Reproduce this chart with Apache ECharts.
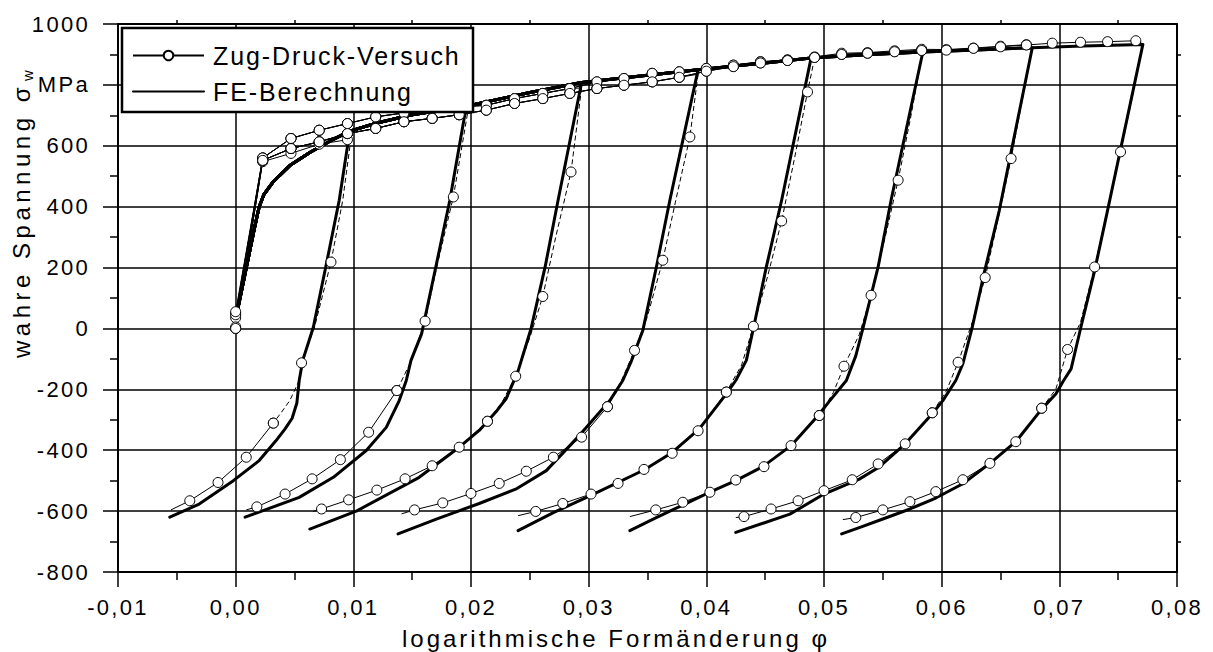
<!DOCTYPE html>
<html>
<head>
<meta charset="utf-8">
<script src="https://cdn.jsdelivr.net/npm/echarts@6/dist/echarts.min.js"></script>
<style>
  html, body { margin: 0; padding: 0; background: #fff; }
  #chart { width: 1213px; height: 652px; }
</style>
</head>
<body>
<div id="chart"></div>
<script>
// Achsen: Teilung und Beschriftung
const xTicks = [-0.01, 0, 0.01, 0.02, 0.03, 0.04, 0.05, 0.06, 0.07, 0.08];
const xTickLabels = ['-0,01', '0,00', '0,01', '0,02', '0,03', '0,04', '0,05', '0,06', '0,07', '0,08'];
const yTicks = [-800, -600, -400, -200, 0, 200, 400, 600, 800, 1000];
const yTickLabels = ['-800', '-600', '-400', '-200', '0', '200', '400', '600', 'MPa', '1000'];
const xTitel = 'logarithmische Formänderung φ';
const yTitel = 'wahre Spannung σ';
const yTitelIndex = 'w';

// Zug-Druck-Versuch: Zugäste (Messpunkte [phi, sigma])
const versuchAstL = [[0.0023, 548], [0.0047, 575], [0.0071, 605], [0.0095, 620]];
const versuchAstM = [[0.0023, 552], [0.0047, 591], [0.0071, 613], [0.0095, 640], [0.0119, 657], [0.0143, 679],
  [0.0167, 690], [0.0190, 702], [0.0213, 717], [0.0237, 739], [0.0261, 755], [0.0284, 772], [0.0307, 788],
  [0.0330, 799], [0.0354, 810], [0.0377, 825], [0.0400, 845], [0.0423, 860], [0.0446, 872], [0.0469, 880],
  [0.0492, 890], [0.0515, 900], [0.0537, 904], [0.0560, 909], [0.0583, 913], [0.0604, 914], [0.0627, 920],
  [0.0650, 925], [0.0672, 931], [0.0694, 937], [0.0718, 940], [0.0741, 942], [0.0765, 945]];
const versuchAstU = [[0.0023, 560], [0.0047, 624], [0.0071, 651], [0.0095, 673], [0.0119, 695], [0.0143, 708],
  [0.0167, 720], [0.0190, 728], [0.0213, 733], [0.0237, 755], [0.0261, 772], [0.0284, 788], [0.0307, 810],
  [0.0330, 821], [0.0354, 838], [0.0377, 843], [0.0400, 854], [0.0423, 865], [0.0446, 876], [0.0469, 882],
  [0.0492, 892], [0.0515, 904], [0.0537, 906], [0.0560, 912], [0.0583, 917], [0.0604, 916], [0.0627, 921],
  [0.0650, 927], [0.0672, 932]];
const versuchAstWahl = ['L', 'M', 'U', 'M', 'U', 'M', 'U', 'M'];
const versuchStartY = [0, 50, 35, 0, 45, 5, 55, 0];

// Zug-Druck-Versuch: Entlastung und Druckast [phi, sigma, Kreis 1/0]
const versuchRueck1 = [[0.0098, 625, 0], [0.0091, 421, 0], [0.0081, 218, 1], [0.0067, 4, 0], [0.0056, -113, 1],
  [0.0054, -171, 0], [0.0046, -237, 0], [0.0038, -280, 0], [0.0032, -311, 1], [0.0009, -423, 1],
  [-0.0015, -506, 1], [-0.0039, -566, 1], [-0.0055, -596, 0]];
const versuchRueck2 = [[0.0197, 705, 0], [0.0185, 432, 1], [0.0172, 220, 0], [0.0161, 24, 1], [0.0150, -100, 0],
  [0.0137, -204, 1], [0.0113, -341, 1], [0.0089, -431, 1], [0.0065, -494, 1], [0.0042, -544, 1],
  [0.0018, -586, 1], [0.0009, -596, 0]];
const versuchRueck3 = [[0.0294, 790, 0], [0.0285, 514, 1], [0.0272, 300, 0], [0.0261, 105, 1], [0.0250, -30, 0],
  [0.0238, -157, 1], [0.0226, -245, 0], [0.0214, -305, 1], [0.0190, -390, 1], [0.0167, -451, 1],
  [0.0144, -494, 1], [0.0120, -531, 1], [0.0096, -563, 1], [0.0073, -593, 1], [0.0066, -601, 0]];
const versuchRueck4 = [[0.0393, 835, 0], [0.0386, 629, 1], [0.0374, 420, 0], [0.0363, 224, 1], [0.0350, 40, 0],
  [0.0339, -72, 1], [0.0328, -170, 0], [0.0316, -257, 1], [0.0294, -357, 1], [0.0270, -423, 1],
  [0.0247, -469, 1], [0.0224, -509, 1], [0.0200, -542, 1], [0.0176, -573, 1], [0.0152, -596, 1],
  [0.0141, -609, 0]];
const versuchRueck5 = [[0.0492, 888, 0], [0.0486, 777, 1], [0.0475, 560, 0], [0.0464, 353, 1], [0.0452, 170, 0],
  [0.0440, 7, 1], [0.0430, -120, 0], [0.0417, -209, 1], [0.0393, -336, 1], [0.0371, -410, 1],
  [0.0347, -463, 1], [0.0325, -509, 1], [0.0302, -544, 1], [0.0278, -575, 1], [0.0255, -601, 1],
  [0.0240, -615, 0]];
const versuchRueck6 = [[0.0584, 913, 0], [0.0574, 700, 0], [0.0563, 487, 1], [0.0552, 300, 0], [0.0540, 109, 1],
  [0.0530, -20, 0], [0.0517, -124, 1], [0.0508, -210, 0], [0.0496, -286, 1], [0.0472, -385, 1],
  [0.0449, -454, 1], [0.0425, -498, 1], [0.0403, -538, 1], [0.0380, -571, 1], [0.0357, -596, 1],
  [0.0335, -618, 0]];
const versuchRueck7 = [[0.0677, 925, 0], [0.0668, 740, 0], [0.0659, 558, 1], [0.0648, 360, 0], [0.0637, 167, 1],
  [0.0626, 20, 0], [0.0614, -111, 1], [0.0604, -205, 0], [0.0592, -277, 1], [0.0569, -379, 1],
  [0.0546, -445, 1], [0.0524, -497, 1], [0.0500, -533, 1], [0.0478, -566, 1], [0.0455, -593, 1],
  [0.0432, -618, 1], [0.0425, -621, 0]];
const versuchRueck8 = [[0.0771, 935, 0], [0.0762, 760, 0], [0.0752, 580, 1], [0.0741, 390, 0], [0.0730, 202, 1],
  [0.0718, 20, 0], [0.0707, -69, 1], [0.0697, -200, 0], [0.0685, -262, 1], [0.0663, -372, 1],
  [0.0641, -443, 1], [0.0618, -497, 1], [0.0595, -536, 1], [0.0573, -569, 1], [0.0550, -596, 1],
  [0.0527, -621, 1], [0.0516, -628, 0]];
// letzter gestrichelter Punkt je Versuch (Index in versuchRueckN)
const versuchStrichBis = [8, 5, 7, 7, 7, 8, 8, 8];

// FE-Berechnung: Zugast und Rückäste [phi, sigma]
const feAst = [[0, 30], [0.0008, 180], [0.0016, 330], [0.0020, 400], [0.0024, 440], [0.0032, 482],
  [0.0046, 535], [0.0063, 578], [0.0080, 615], [0.0097, 648], [0.0120, 675], [0.0150, 702], [0.0196, 730],
  [0.0250, 775], [0.0294, 808], [0.0350, 832], [0.0393, 850], [0.0450, 872], [0.0489, 888], [0.0540, 900],
  [0.0584, 908], [0.0630, 915], [0.0677, 922], [0.0720, 928], [0.0771, 933]];
const feRueck1 = [[0.0097, 648], [0.0088, 421], [0.0077, 210], [0.0066, 4], [0.0057, -105], [0.0054, -171],
  [0.0052, -245], [0.0048, -295], [0.0042, -330], [0.0034, -370], [0.0020, -434], [-0.0002, -500],
  [-0.0031, -577], [-0.0056, -620]];
const feRueck2 = [[0.0196, 730], [0.0182, 421], [0.0170, 200], [0.0158, -18], [0.0149, -105], [0.0145, -171],
  [0.0139, -237], [0.0128, -325], [0.0111, -401], [0.0083, -489], [0.0054, -555], [0.0008, -620]];
const feRueck3 = [[0.0294, 808], [0.0274, 421], [0.0263, 202], [0.0251, -1], [0.0240, -140], [0.0230, -230],
  [0.0222, -270], [0.0207, -335], [0.0190, -390], [0.0156, -489], [0.0103, -599], [0.0063, -659]];
const feRueck4 = [[0.0393, 850], [0.0369, 421], [0.0358, 210], [0.0346, -7], [0.0336, -110], [0.0329, -171],
  [0.0318, -237], [0.0292, -352], [0.0264, -467], [0.0238, -528], [0.0207, -575], [0.0170, -627],
  [0.0138, -675]];
const feRueck5 = [[0.0489, 888], [0.0464, 421], [0.0451, 202], [0.0440, 0], [0.0434, -105], [0.0425, -171],
  [0.0417, -215], [0.0394, -330], [0.0370, -410], [0.0347, -465], [0.0301, -550], [0.0270, -605],
  [0.0240, -664]];
const feRueck6 = [[0.0584, 908], [0.0557, 421], [0.0546, 202], [0.0533, -1], [0.0527, -90], [0.0519, -171],
  [0.0505, -237], [0.0495, -286], [0.0472, -385], [0.0448, -454], [0.0425, -500], [0.0403, -538],
  [0.0380, -580], [0.0357, -622], [0.0335, -664]];
const feRueck7 = [[0.0677, 922], [0.0649, 388], [0.0636, 180], [0.0626, 4], [0.0618, -116], [0.0612, -171],
  [0.0601, -237], [0.0592, -280], [0.0569, -379], [0.0547, -455], [0.0530, -495], [0.0500, -544],
  [0.0471, -610], [0.0425, -670]];
const feRueck8 = [[0.0771, 933], [0.0741, 388], [0.0730, 190], [0.0718, -1], [0.0710, -133], [0.0703, -175],
  [0.0697, -215], [0.0685, -265], [0.0663, -372], [0.0641, -443], [0.0618, -510], [0.0595, -557],
  [0.0573, -593], [0.0550, -626], [0.0530, -654], [0.0515, -675]];

const FONT = 'Liberation Sans';
const VERSUCH = 'Zug-Druck-Versuch';
const FE = 'FE-Berechnung';

const versuchAeste = { L: versuchAstL, M: versuchAstM, U: versuchAstU };
const versuchRueck = [versuchRueck1, versuchRueck2, versuchRueck3, versuchRueck4,
  versuchRueck5, versuchRueck6, versuchRueck7, versuchRueck8];
const feRueck = [feRueck1, feRueck2, feRueck3, feRueck4, feRueck5, feRueck6, feRueck7, feRueck8];

function tickLabel(ticks, labels, v) {
  let best = 0;
  ticks.forEach((t, i) => { if (Math.abs(t - v) < Math.abs(ticks[best] - v)) best = i; });
  return labels[best];
}

// Messpunkte mit Kreis / ohne Kreis
function punkte(arr) {
  return arr.map(p => ({ value: [p[0], p[1]], symbol: p[2] ? 'circle' : 'none' }));
}

function versuchSerie(data, dashed) {
  return {
    type: 'line', name: VERSUCH, data: punkte(data),
    symbol: 'circle', symbolSize: 10, showSymbol: true, showAllSymbol: true,
    itemStyle: { color: '#fff', borderColor: '#000', borderWidth: 1 },
    lineStyle: { color: '#000', width: 1, type: dashed ? [5, 3] : 'solid' },
    emphasis: { disabled: true }, z: 3, animation: false
  };
}

const series = [];

// Versuchsäste zuerst (Legendeneintrag mit Kreis)
versuchRueck.forEach((r, k) => {
  const ast = versuchAeste[versuchAstWahl[k]];
  const peakX = r[0][0];
  const zug = [[0, versuchStartY[k], 1]]
    .concat(ast.filter(p => p[0] < peakX - 1e-6).map(p => [p[0], p[1], 1]))
    .concat([r[0]]);
  const d = versuchStrichBis[k];
  series.push(versuchSerie(zug, false));
  series.push(versuchSerie(r.slice(0, d + 1), true));
  series.push(versuchSerie(r.slice(d), false));
});

feRueck.forEach(r => {
  const peakX = r[0][0];
  const pts = feAst.filter(p => p[0] < peakX - 1e-6).concat(r);
  series.push({
    type: 'line', name: FE, data: pts, symbol: 'none', showSymbol: false,
    lineStyle: { color: '#000', width: 3, cap: 'round', join: 'round' },
    itemStyle: { color: 'rgba(0,0,0,0)', borderColor: 'rgba(0,0,0,0)' },
    emphasis: { disabled: true }, z: 2, animation: false
  });
});

const axisLineStyle = { color: '#000', width: 2 };
const gridLineStyle = { color: '#000', width: 1.5 };
const labelStyle = { color: '#000', fontSize: 22, fontFamily: FONT };

const option = {
  animation: false,
  backgroundColor: '#fff',
  textStyle: { fontFamily: FONT },
  grid: { left: 118, right: 36, top: 24, bottom: 80, containLabel: false },
  xAxis: [
    {
      type: 'value', position: 'bottom', min: -0.01, max: 0.08, interval: 0.01,
      axisLine: { show: true, lineStyle: axisLineStyle, onZero: false },
      axisTick: { show: true, length: 15, lineStyle: gridLineStyle },
      minorTick: { show: true, splitNumber: 2, length: 8, lineStyle: gridLineStyle },
      splitLine: { show: true, lineStyle: gridLineStyle },
      axisLabel: Object.assign({ margin: 24, formatter: v => tickLabel(xTicks, xTickLabels, v) }, labelStyle)
    },
    {
      type: 'value', position: 'top', min: -0.01, max: 0.08, interval: 0.01,
      axisLine: { show: true, lineStyle: axisLineStyle, onZero: false },
      axisTick: { show: false },
      minorTick: { show: true, splitNumber: 2, length: 4, lineStyle: gridLineStyle },
      splitLine: { show: false },
      axisLabel: { show: false }
    }
  ],
  yAxis: [
    {
      type: 'value', position: 'left', min: -800, max: 1000, interval: 200,
      axisLine: { show: true, lineStyle: axisLineStyle, onZero: false },
      axisTick: { show: true, length: 15, lineStyle: gridLineStyle },
      minorTick: { show: true, splitNumber: 2, length: 8, lineStyle: gridLineStyle },
      splitLine: { show: true, lineStyle: gridLineStyle },
      axisLabel: Object.assign({ margin: 28, formatter: v => tickLabel(yTicks, yTickLabels, v) }, labelStyle)
    },
    {
      type: 'value', position: 'right', min: -800, max: 1000, interval: 200,
      axisLine: { show: true, lineStyle: axisLineStyle, onZero: false },
      axisTick: { show: false },
      minorTick: { show: true, splitNumber: 2, length: 4, lineStyle: gridLineStyle },
      splitLine: { show: false },
      axisLabel: { show: false }
    }
  ],
  legend: {
    data: [VERSUCH, FE], orient: 'vertical', left: 132, top: 43, padding: 0,
    itemWidth: 71, itemHeight: 12, itemGap: 11, selectedMode: false, z: 20,
    textStyle: { fontSize: 25, color: '#000', fontFamily: FONT, padding: [0, 0, 0, 4] }
  },
  graphic: [
    {
      type: 'rect', z: 10,
      shape: { x: 122, y: 28, width: 351, height: 84 },
      style: { fill: '#fff', stroke: '#000', lineWidth: 2.5 }
    },
    {
      type: 'text', z: 10, x: 616, y: 638,
      style: {
        text: xTitel, fill: '#000',
        font: '24px "Liberation Sans"', align: 'center', verticalAlign: 'middle'
      }
    },
    {
      type: 'text', z: 10, x: 21, y: 83, rotation: Math.PI / 2,
      style: {
        text: yTitel, fill: '#000',
        font: '24px "Liberation Sans"', align: 'right', verticalAlign: 'middle'
      }
    },
    {
      type: 'text', z: 10, x: 27, y: 81, rotation: Math.PI / 2,
      style: {
        text: yTitelIndex, fill: '#000',
        font: '15px "Liberation Sans"', align: 'left', verticalAlign: 'middle'
      }
    }
  ],
  series: series
};

const chart = echarts.init(document.getElementById('chart'), null, { renderer: 'svg' });
chart.setOption(option);

// Laufweite der Schrift je Textart
function laufweite() {
  document.querySelectorAll('#chart text').forEach(t => {
    const s = t.textContent;
    let ls = 2.3;                                   // Teilungsbeschriftung
    if (s === xTitel) ls = 3;
    else if (s === yTitel) ls = 4.5;
    else if (s === yTitelIndex) ls = 0.5;
    else if (s === VERSUCH || s === FE) ls = 1.9;
    t.style.letterSpacing = ls + 'px';
  });
}
laufweite();
chart.on('finished', laufweite);
</script>
</body>
</html>
